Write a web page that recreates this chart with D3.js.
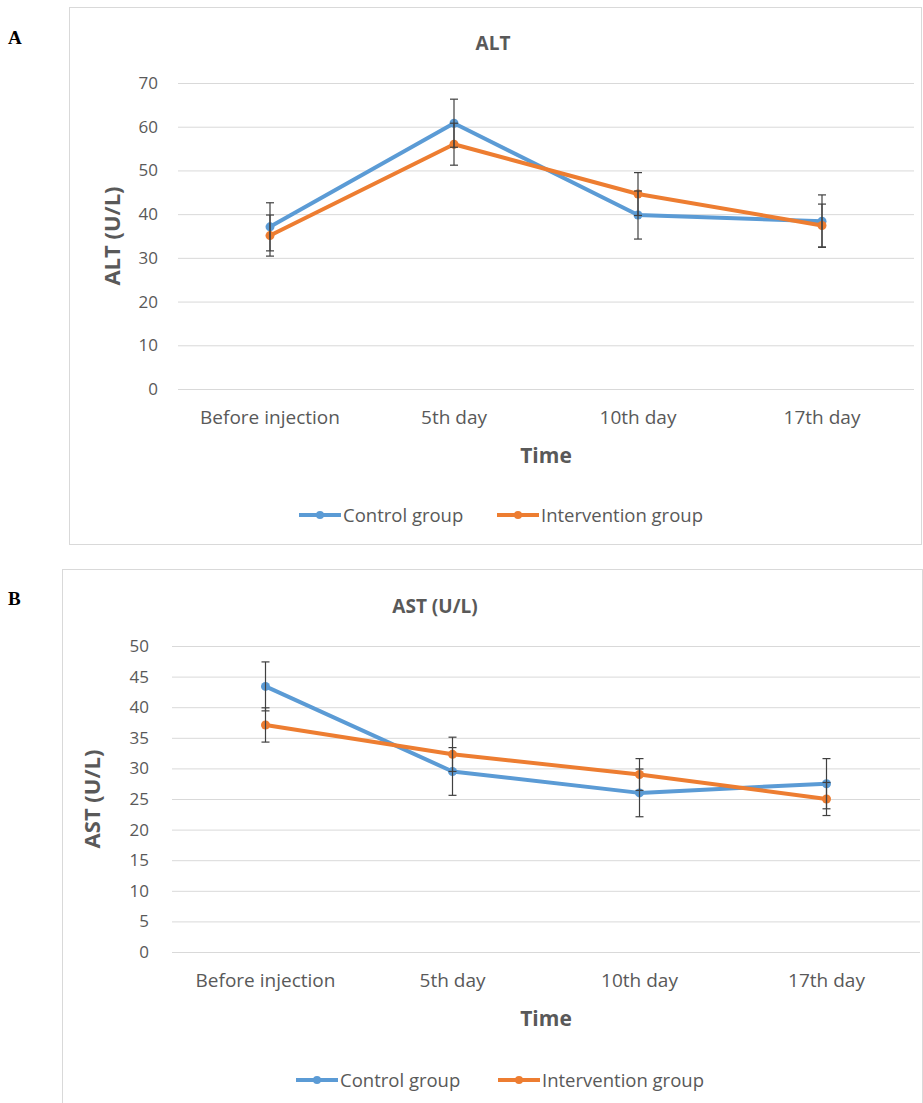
<!DOCTYPE html>
<html><head><meta charset="utf-8">
<style>
    body { margin: 0; background: white; font-family: "Open Sans", sans-serif; }
    svg { display: block; }
    .tick line { stroke: #d9d9d9; }
    .domain { display: none; }
</style>
<script src="https://d3js.org/d3.v7.min.js"></script>
</head>
<body>
<svg id="chart"></svg>
<script>
    // values
    let categories = ["Before injection", "5th day", "10th day", "17th day"]
    let seriesNames = ["Control group", "Intervention group"]

    let altControl = [37.1, 60.8, 39.8, 38.4]
    let altControlErr = [5.5, 5.5, 5.5, 6.0]
    let altIntervention = [35.1, 56.0, 44.6, 37.4]
    let altInterventionErr = [4.7, 4.8, 4.9, 4.9]
    let altTicks = [0, 10, 20, 30, 40, 50, 60, 70]

    let astControl = [43.4, 29.5, 26.0, 27.5]
    let astControlErr = [4.0, 3.9, 3.9, 4.1]
    let astIntervention = [37.1, 32.3, 29.0, 25.0]
    let astInterventionErr = [2.8, 2.8, 2.6, 2.7]
    let astTicks = [0, 5, 10, 15, 20, 25, 30, 35, 40, 45, 50]

    let colors = ["#5b9bd5", "#ed7d31"]
    let textColor = "#595959"

    let svg = d3.select('#chart').attr('width', 923).attr('height', 1103)

    function drawPanel(cfg) {
        let g = svg.append('g')

        // chart frame
        g.append('rect')
            .attr('x', cfg.frame[0] + 0.5).attr('y', cfg.frame[1] + 0.5)
            .attr('width', cfg.frame[2]).attr('height', cfg.frame[3])
            .attr('fill', 'white').attr('stroke', '#d9d9d9')

        svg.append('text')
            .attr('x', 8).attr('y', cfg.letterY)
            .attr('font-family', '"Liberation Serif", "DejaVu Serif", serif')
            .attr('font-weight', 'bold').attr('font-size', 19)
            .text(cfg.letter)

        let xScale = d3.scaleBand()
            .domain(categories)
            .range([cfg.left, cfg.right])

        let yScale = d3.scaleLinear()
            .domain([0, d3.max(cfg.ticks)])
            .range([cfg.bottom, cfg.top])

        // gridlines + tick labels
        let axisY = d3.axisLeft(yScale)
            .tickValues(cfg.ticks)
            .tickSize(-(cfg.right - cfg.left))
            .tickPadding(cfg.tickPad)
        let yAxis = g.append('g')
            .attr('transform', `translate(${cfg.left},0)`)
            .call(axisY)
        yAxis.selectAll('text')
            .attr('font-family', '"Open Sans", sans-serif')
            .attr('font-size', 17).attr('fill', textColor)

        let axisX = d3.axisBottom(xScale).tickSize(0).tickPadding(22)
        let xAxis = g.append('g')
            .attr('transform', `translate(0,${cfg.bottom})`)
            .call(axisX)
        xAxis.selectAll('text')
            .attr('font-family', '"Open Sans", sans-serif')
            .attr('font-size', 19).attr('fill', textColor)

        // titles
        g.append('text')
            .attr('x', cfg.titleX).attr('y', cfg.top - 33)
            .attr('text-anchor', 'middle')
            .attr('font-weight', 'bold').attr('font-size', 19).attr('fill', textColor)
            .text(cfg.title)

        g.append('text')
            .attr('transform', `translate(${cfg.yTitleX},${(cfg.top + cfg.bottom) / 2}) rotate(-90)`)
            .attr('text-anchor', 'middle')
            .attr('font-weight', 'bold').attr('font-size', 22).attr('fill', textColor)
            .text(cfg.yTitle)

        g.append('text')
            .attr('x', (cfg.left + cfg.right) / 2).attr('y', cfg.bottom + 74)
            .attr('text-anchor', 'middle')
            .attr('font-weight', 'bold').attr('font-size', 21).attr('fill', textColor)
            .text('Time')

        let cx = c => xScale(c) + xScale.bandwidth() / 2
        let line = d3.line()
            .x((d, i) => cx(categories[i]))
            .y(d => yScale(d))

        cfg.series.forEach((s, k) => {
            g.append('path')
                .datum(s.values)
                .attr('d', line)
                .attr('fill', 'none')
                .attr('stroke', colors[k])
                .attr('stroke-width', 4)
                .attr('stroke-linejoin', 'round')

            g.selectAll('.dot' + k)
                .data(s.values)
                .enter().append('circle')
                .attr('cx', (d, i) => cx(categories[i]))
                .attr('cy', d => yScale(d))
                .attr('r', 4.5)
                .attr('fill', colors[k])
        })

        // error bars on top
        cfg.series.forEach(s => {
            s.values.forEach((v, i) => {
                let x = cx(categories[i])
                let lo = yScale(v - s.err[i]), hi = yScale(v + s.err[i])
                g.append('line')
                    .attr('x1', x).attr('x2', x).attr('y1', lo).attr('y2', hi)
                    .attr('stroke', '#404040').attr('stroke-width', 1.2)
                ;[lo, hi].forEach(y => {
                    g.append('line')
                        .attr('x1', x - 4).attr('x2', x + 4).attr('y1', y).attr('y2', y)
                        .attr('stroke', '#404040').attr('stroke-width', 1.2)
                })
            })
        })

        // legend
        cfg.legendX.forEach((lx, k) => {
            let lg = g.append('g').attr('transform', `translate(${lx},${cfg.legendY})`)
            lg.append('line')
                .attr('x1', 0).attr('x2', 42)
                .attr('stroke', colors[k]).attr('stroke-width', 4)
            lg.append('circle').attr('cx', 21).attr('r', 4).attr('fill', colors[k])
            lg.append('text')
                .attr('x', 44).attr('y', 6.5)
                .attr('font-size', 18.5).attr('fill', textColor)
                .text(seriesNames[k])
        })
    }

    drawPanel({
        letter: 'A', letterY: 44,
        frame: [69, 7, 852, 537],
        left: 178, right: 914, top: 83, bottom: 389,
        ticks: altTicks, tickPad: 20,
        title: 'ALT', titleX: 493,
        yTitle: 'ALT (U/L)', yTitleX: 120,
        series: [
            { values: altControl, err: altControlErr },
            { values: altIntervention, err: altInterventionErr }
        ],
        legendX: [299, 497], legendY: 515
    })

    drawPanel({
        letter: 'B', letterY: 605,
        frame: [62, 569, 860, 560],
        left: 172, right: 920, top: 646, bottom: 952,
        ticks: astTicks, tickPad: 23,
        title: 'AST (U/L)', titleX: 435,
        yTitle: 'AST (U/L)', yTitleX: 100,
        series: [
            { values: astControl, err: astControlErr },
            { values: astIntervention, err: astInterventionErr }
        ],
        legendX: [296, 498], legendY: 1080
    })
</script>
</body>
</html>
